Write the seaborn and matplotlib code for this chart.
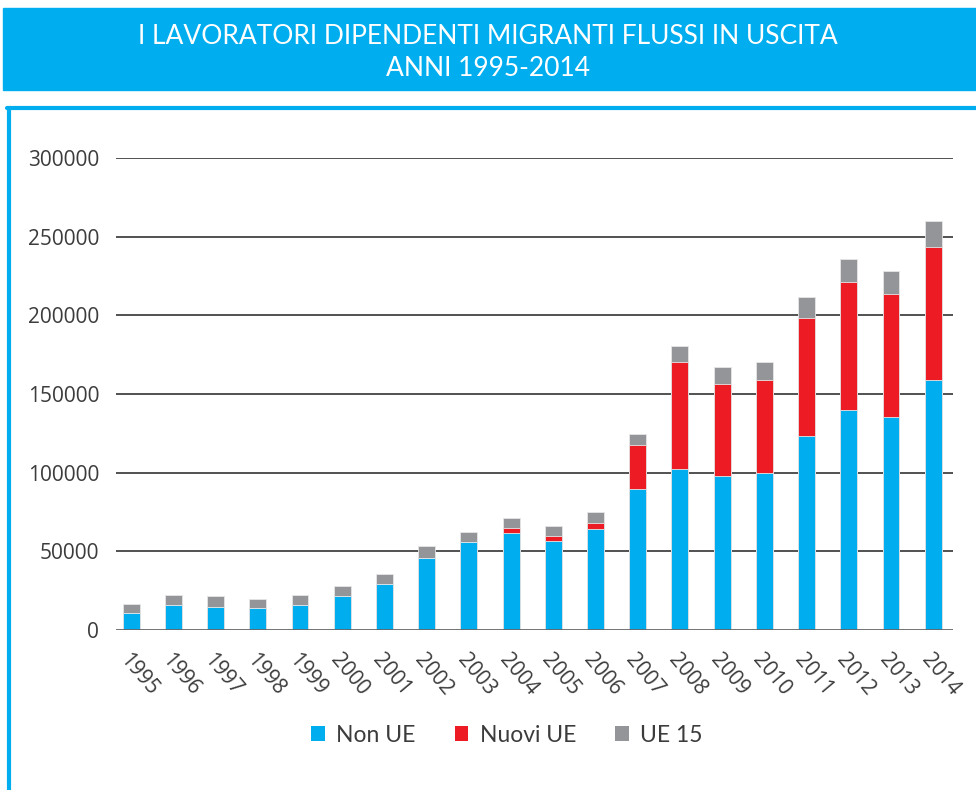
import numpy as np
import pandas as pd
import seaborn as sns
import matplotlib.pyplot as plt
from matplotlib.patches import Patch, Rectangle
from matplotlib.lines import Line2D

# Data
years = [str(y) for y in range(1995, 2015)]
non_ue = [10600, 15800, 14900, 14100, 16000, 21500, 29000, 45900, 55800, 61900,
          56500, 64000, 89600, 102200, 97700, 99600, 123000, 139900, 135400, 158700]
nuovi_ue = [0, 0, 0, 0, 0, 0, 0, 0, 0, 3200,
            3400, 4200, 28200, 68400, 58900, 59500, 75000, 81600, 77900, 84700]
ue15 = [6200, 6400, 6400, 5800, 6000, 6700, 6600, 7500, 6400, 6400,
        6400, 6600, 6600, 10200, 10400, 11100, 13600, 14500, 14900, 16800]
series_labels = ["Non UE", "Nuovi UE", "UE 15"]
colors = ["#00AEEF", "#ED1C24", "#939598"]
yticks = [0, 50000, 100000, 150000, 200000, 250000, 300000]

df = pd.DataFrame({"year": years, "non_ue": non_ue, "nuovi_ue": nuovi_ue, "ue15": ue15})
df["lvl1"] = df["non_ue"]
df["lvl2"] = df["lvl1"] + df["nuovi_ue"]
df["lvl3"] = df["lvl2"] + df["ue15"]

sns.set_style("white")
plt.rcParams["font.family"] = ["Open Sans", "DejaVu Sans"]
TXT = "#3c3c3c"

fig = plt.figure(figsize=(9.76, 7.9), dpi=100)

# title banner and frame
fig.patches.append(Rectangle((3 / 976, 1 - 90 / 790), 1, 82 / 790, transform=fig.transFigure,
                             color="#00AEEF", zorder=0))
fig.add_artist(Line2D([8.5 / 976, 8.5 / 976], [0, 1 - 107.5 / 790], transform=fig.transFigure,
                      color="#00AEEF", lw=3))
fig.add_artist(Line2D([7 / 976, 1], [1 - 107.5 / 790, 1 - 107.5 / 790], transform=fig.transFigure,
                      color="#00AEEF", lw=3))
fig.text(0.5, 1 - 36 / 790, "I LAVORATORI DIPENDENTI MIGRANTI FLUSSI IN USCITA",
         ha="center", va="center", color="white", fontsize=19, family=["Lato", "DejaVu Sans"])
fig.text(0.5, 1 - 68 / 790, "ANNI 1995-2014",
         ha="center", va="center", color="white", fontsize=19, family=["Lato", "DejaVu Sans"])

ax = fig.add_axes([116 / 976, 1 - 630 / 790, (953 - 116) / 976, (630 - 158) / 790])

for col, c in zip(["lvl3", "lvl2", "lvl1"], colors[::-1]):
    sns.barplot(data=df, x="year", y=col, color=c, width=0.4, ax=ax,
                edgecolor="#e6e6e6", linewidth=0.6, zorder=3, saturation=1)

for v in yticks[1:]:
    ax.axhline(v, color="#333333", lw=1.2, zorder=1)
ax.axhline(0, color="#666666", lw=2, zorder=4)

ax.set_xlim(-0.36, 19.47)
ax.set_ylim(0, 300000)
ax.set_yticks(yticks)
ax.set_yticklabels([str(v) for v in yticks])
ax.set_xlabel("")
ax.set_ylabel("")
sns.despine(ax=ax, left=True, bottom=True)
ax.tick_params(axis="both", length=0, colors=TXT, labelsize=15)
ax.tick_params(axis="y", pad=12)
ax.tick_params(axis="x", pad=14)
for lab in ax.get_xticklabels():
    lab.set_rotation(-50)
    lab.set_ha("left")
    lab.set_va("top")
    lab.set_rotation_mode("anchor")

handles = [Patch(facecolor=c, edgecolor="none") for c in colors]
fig.legend(handles, series_labels, loc="center", bbox_to_anchor=(507 / 976, 1 - 735 / 790),
           ncol=3, frameon=False, handlelength=0.6, handleheight=0.6, handletextpad=0.5,
           columnspacing=1.7, prop={"family": ["Lato", "DejaVu Sans"], "size": 16.5},
           labelcolor=TXT)

fig.savefig("out.png", dpi=100)
